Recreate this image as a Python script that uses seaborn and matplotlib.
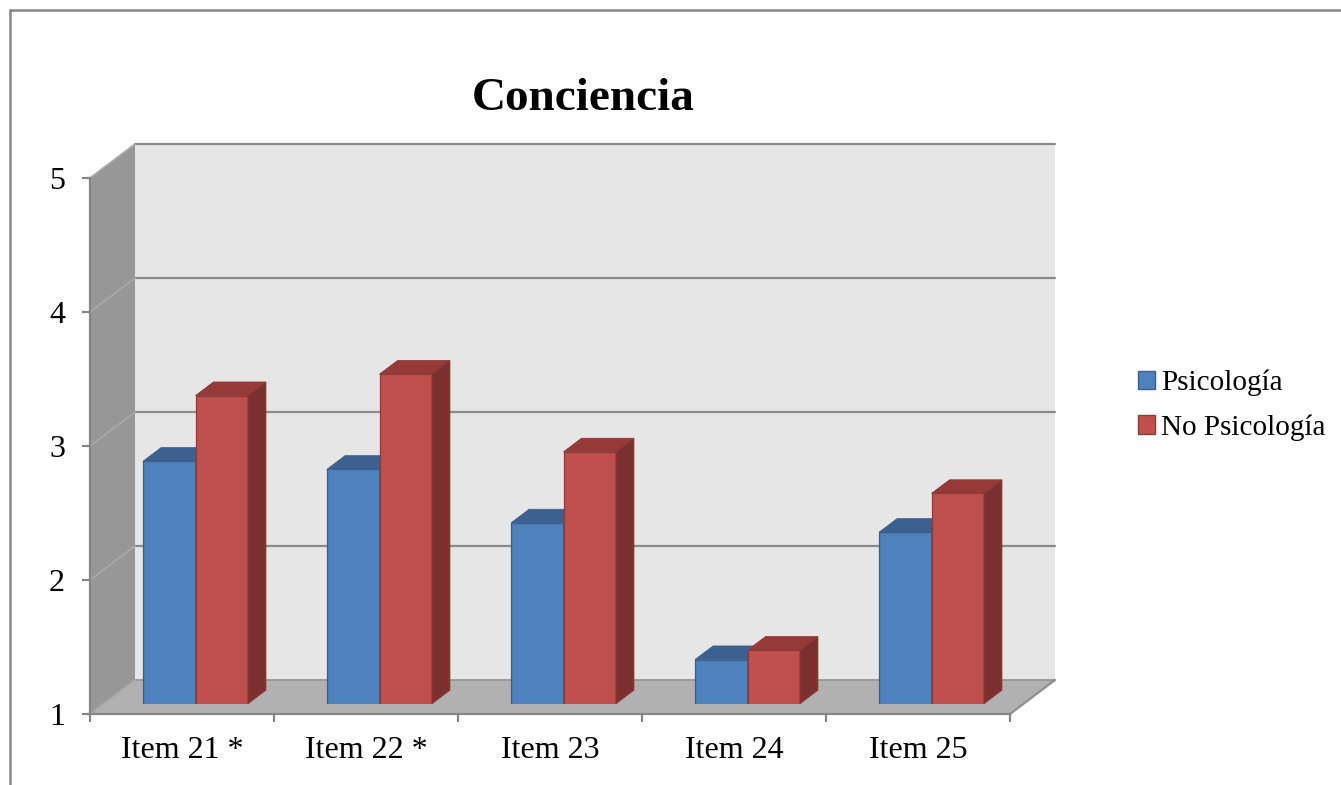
import numpy as np
import pandas as pd
import matplotlib
matplotlib.use("Agg")
import matplotlib.pyplot as plt
import seaborn as sns
from matplotlib.patches import Polygon, Rectangle
from matplotlib.lines import Line2D

# ---------------- data ----------------
items = ["Item 21 *", "Item 22 *", "Item 23", "Item 24", "Item 25"]
series = ["Psicología", "No Psicología"]
psicologia = [2.81, 2.75, 2.35, 1.33, 2.28]
no_psicologia = [3.30, 3.46, 2.88, 1.40, 2.57]
yticks = [1, 2, 3, 4, 5]
title = "Conciencia"

# ---------------- style ----------------
sns.set_theme(style="white")
plt.rcParams['font.family'] = ['Liberation Serif', 'DejaVu Serif']
plt.rcParams['text.color'] = 'black'
plt.rcParams['xtick.color'] = 'black'
plt.rcParams['ytick.color'] = 'black'
plt.rcParams['xtick.labelcolor'] = 'black'
plt.rcParams['ytick.labelcolor'] = 'black'

front_cols = ["#4F81BD", "#C0504D"]
edge_cols = ["#3A5F8B", "#8E3A38"]
top_cols = ["#3C6090", "#953A38"]
side_cols = ["#2F4D73", "#7B2F2E"]
wall_side = "#979797"
wall_back = "#E6E6E6"
floor_col = "#B1B1B1"
grid_col = "#8A8A8A"
axis_col = "#868686"

W, H = 1341, 785
fig = plt.figure(figsize=(W / 100, H / 100), dpi=100)

# front plane (axis) geometry in pixels
x0p, x1p, y0p, y1p = 90, 1010, 714, 178
ax = fig.add_axes([x0p / W, (H - y0p) / H, (x1p - x0p) / W, (y0p - y1p) / H])
ax.set_xlim(-0.5, len(items) - 0.5)
ax.set_ylim(yticks[0], yticks[-1])
ax.patch.set_visible(False)

# depth vector (data units of the front axes)
px_per_x = (x1p - x0p) / len(items)
px_per_y = (y0p - y1p) / (yticks[-1] - yticks[0])
DX = 45 / px_per_x
DY = 34 / px_per_y

xl, xr = -0.5, len(items) - 0.5
yb, yt = yticks[0], yticks[-1]

# walls
ax.add_patch(Polygon([(xl, yb), (xl, yt), (xl + DX, yt + DY), (xl + DX, yb + DY)],
                     closed=True, fc=wall_side, ec="none", clip_on=False, zorder=0.5))
ax.add_patch(Polygon([(xl + DX, yb + DY), (xr + DX, yb + DY), (xr + DX, yt + DY), (xl + DX, yt + DY)],
                     closed=True, fc=wall_back, ec="none", clip_on=False, zorder=0.5))
ax.add_patch(Polygon([(xl, yb), (xr, yb), (xr + DX, yb + DY), (xl + DX, yb + DY)],
                     closed=True, fc=floor_col, ec="none", clip_on=False, zorder=0.7))
# gridlines on back wall and side wall
for v in yticks[1:]:
    ax.plot([xl + DX, xr + DX], [v + DY, v + DY], color=grid_col, lw=1.6, clip_on=False, zorder=0.6)
    ax.plot([xl, xl + DX], [v, v + DY], color="#A9A9A9", lw=1.2, clip_on=False, zorder=0.6)
# floor edges
ax.plot([xl + DX, xr + DX], [yb + DY, yb + DY], color="#9A9A9A", lw=1.4, clip_on=False, zorder=0.8)
ax.plot([xr, xr + DX], [yb, yb + DY], color="#8F8F8F", lw=1.6, clip_on=False, zorder=0.8)
ax.plot([xl, xl + DX], [yb, yb + DY], color="#A9A9A9", lw=1.2, clip_on=False, zorder=0.8)

# axes spines / ticks
for s in ["top", "right"]:
    ax.spines[s].set_visible(False)
for s in ["left", "bottom"]:
    ax.spines[s].set_color(axis_col)
    ax.spines[s].set_linewidth(1.6)
    ax.spines[s].set_zorder(1)
ax.set_yticks(yticks)
ax.set_yticklabels([str(v) for v in yticks])
ax.set_xticks(range(len(items)))
ax.set_xticklabels(items)
ax.set_xticks(np.arange(-0.5, len(items), 1.0), minor=True)
ax.tick_params(axis="y", which="major", direction="out", length=6, width=1.6, color=axis_col,
               labelsize=23, pad=12, left=True, labelcolor="black")
ax.tick_params(axis="x", which="major", length=0, labelsize=23, pad=16, bottom=True, labelcolor="black")
ax.tick_params(axis="x", which="minor", direction="out", length=6, width=1.6, color=axis_col, bottom=True)
ax.grid(False)
ax.set_xlabel("")
ax.set_ylabel("")

# bars axes (front face of bars, 30% into depth)
f_front, f_depth = 0.3, 0.4
bx_off = f_front * 45
by_off = f_front * 34
bax = fig.add_axes([(x0p + bx_off) / W, (H - y0p + by_off) / H, (x1p - x0p) / W, (y0p - y1p) / H])
bax.set_zorder(2)
bax.patch.set_visible(False)

df = pd.DataFrame({
    "Item": items * 2,
    "Grupo": [series[0]] * len(items) + [series[1]] * len(items),
    "Valor": psicologia + no_psicologia,
})
sns.barplot(data=df, x="Item", y="Valor", hue="Grupo", hue_order=series, order=items,
            palette=front_cols, saturation=1, width=0.57, gap=0, ax=bax, legend=False,
            errorbar=None)
bax.set_xlim(-0.5, len(items) - 0.5)
bax.set_ylim(yticks[0], yticks[-1])
bax.axis("off")

ddx, ddy = f_depth * DX, f_depth * DY
for k, cont in enumerate(bax.containers):
    for p in cont.patches:
        p.set_edgecolor(edge_cols[k])
        p.set_linewidth(0.9)
        p.set_zorder(2 + k)
        x0 = p.get_x()
        x1 = x0 + p.get_width()
        h = p.get_y() + p.get_height()
        base = max(p.get_y(), yticks[0])
        bax.add_patch(Polygon([(x0, h), (x1, h), (x1 + ddx, h + ddy), (x0 + ddx, h + ddy)],
                              closed=True, fc=top_cols[k], ec=edge_cols[k], lw=0.6,
                              clip_on=False, zorder=2.5 + k))
        bax.add_patch(Polygon([(x1, base), (x1 + ddx, base + ddy), (x1 + ddx, h + ddy), (x1, h)],
                              closed=True, fc=side_cols[k], ec=edge_cols[k], lw=0.6,
                              clip_on=False, zorder=2.5 + k))

# title
fig.text(583 / W, 1 - 99 / H, title, ha="center", va="center", fontsize=34,
         fontweight="bold", color="black")

# legend
handles = [Rectangle((0, 0), 1, 1, fc=front_cols[i], ec=edge_cols[i], lw=1.0) for i in range(2)]
leg = fig.legend(handles, series, loc="upper left", bbox_to_anchor=(1126 / W, 1 - 358 / H),
                 frameon=False, fontsize=21, handlelength=0.6, handleheight=0.6,
                 handletextpad=0.2, labelspacing=0.62, borderaxespad=0)
for t in leg.get_texts():
    t.set_color("black")

# chart area border (left and top visible)
fig.add_artist(Line2D([9.5 / W, 9.5 / W], [0, 1 - 10 / H], color=axis_col, lw=1.8))
fig.add_artist(Line2D([9.5 / W, 1], [1 - 10 / H, 1 - 10 / H], color=axis_col, lw=1.8))

fig.savefig("out.png", dpi=100)
